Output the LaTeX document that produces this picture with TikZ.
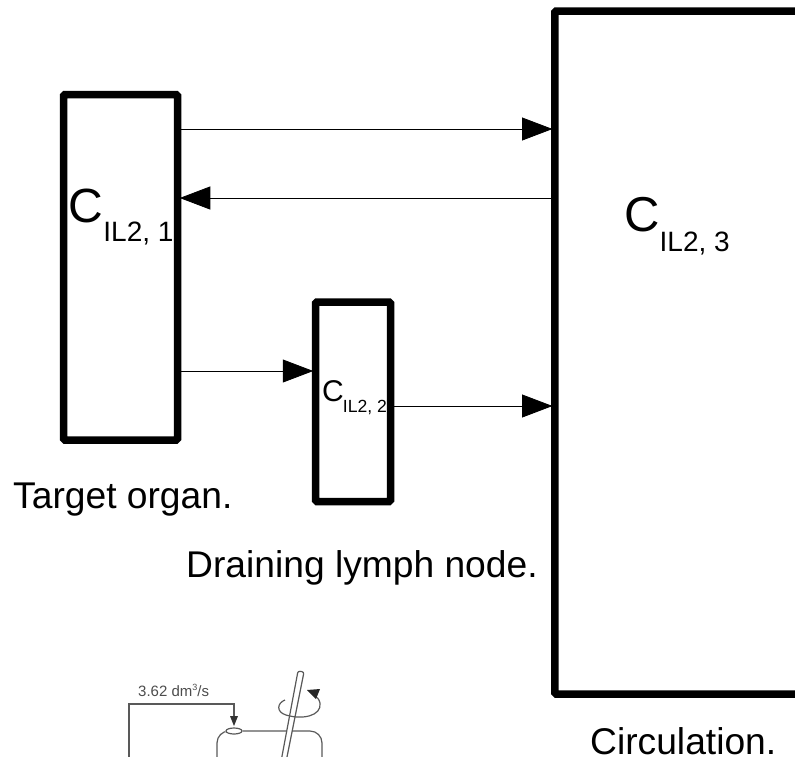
\documentclass[tikz,border=0pt]{standalone}
\usepackage{fontspec}
\setmainfont{Liberation Sans}
\usetikzlibrary{arrows.meta}
\tikzset{
  x=1pt,y=-1pt,
  comp/.style={draw=black,line width=7.5pt,rounded corners=1.5pt,minimum width=#1,inner sep=0pt,outer sep=3.75pt},
  flow/.style={draw=black,line width=0.8pt,-{Triangle[length=30.5pt,width=23pt]},shorten >=-1.5pt},
  symb/.style={inner sep=0pt,anchor=base west},
  sub/.style={inner sep=0pt,anchor=base west},
  lab/.style={inner sep=0pt,anchor=base west,font=\fontsize{37.2}{44}\selectfont},
  sketch/.style={draw=black!65,line width=1.2pt}
}
\begin{document}
\begin{tikzpicture}
\useasboundingbox (0,0) rectangle (795,756);
% compartments
\node[comp=114pt,minimum height=345.5pt] (organ) at (120.5,267.25) {};
\node[comp=75pt,minimum height=199.5pt] (lymph) at (353,401.75) {};
\node[comp=280pt,minimum height=683pt] (circ) at (694.75,352.5) {};
% connector ends
\coordinate (oa) at (organ.east |- 0,129);
\coordinate (ca) at (circ.west |- 0,129);
\coordinate (cb) at (circ.west |- 0,198);
\coordinate (ob) at (organ.east |- 0,198);
\coordinate (oc) at (organ.east |- 0,371);
\coordinate (la) at (lymph.west |- 0,371);
\coordinate (lb) at (lymph.east |- 0,406);
\coordinate (cc) at (circ.west |- 0,406);
\draw[flow] (oa) -- (ca);
\draw[flow] (cb) -- (ob);
\draw[flow] (oc) -- (la);
\draw[flow] (lb) -- (cc);
% symbols
\node[symb,font=\fontsize{48}{56}\selectfont] (c1) at (68.5,222) {C};
\node[sub,font=\fontsize{28}{32}\selectfont] (s1) at (103.2,241.7) {IL2, 1};
\node[symb,font=\fontsize{30}{36}\selectfont] (c2) at (321.8,401) {C};
\node[sub,font=\fontsize{17.6}{20}\selectfont] (s2) at (342.7,412.3) {IL2, 2};
\node[symb,font=\fontsize{49}{60}\selectfont] (c3) at (624.5,231) {C};
\node[sub,font=\fontsize{28}{32}\selectfont] (s3) at (659.5,251) {IL2, 3};
% captions
\node[lab] (t1) at (13,508) {Target organ.};
\node[lab] (t2) at (186,577) {Draining lymph node.};
\node[lab] (t3) at (590,754) {Circulation.};
% sketch
\begin{scope}
\clip (0,0) rectangle (795,756);
\node[inner sep=0pt,anchor=base west,text=black!70,font=\fontsize{15}{18}\selectfont] (rate) at (138,696) {3.62 dm\raisebox{6pt}{\fontsize{9}{10}\selectfont 3}/s};
\draw[sketch] (129,770) -- (129,704) -- (234,704) -- (234,722);
\fill[black!80] (230,716) -- (238,716) -- (234,726) -- cycle;
\draw[sketch] (217,770) -- (217,743) arc[start angle=180,end angle=270,radius=12] -- (310,731) arc[start angle=-90,end angle=0,radius=12] -- (322,770);
\fill[white] (234,731) ellipse[x radius=9,y radius=3.5];
\draw[sketch] (234,731) ellipse[x radius=8,y radius=3];
\fill[white] (298,672) -- (304,672) -- (284.4,770) -- (279.4,770) -- cycle;
\draw[sketch,rounded corners=2pt] (279.4,770) -- (298,671) -- (304,672) -- (284.4,770);
\draw[sketch] (285,700) .. controls (277,703) and (276,712) .. (286,715) .. controls (302,720) and (322,716) .. (320,703) .. controls (319,699) and (317,697) .. (315,696);
\fill[black!85] (307,690) -- (320,689) -- (316,699) -- cycle;
\end{scope}
\end{tikzpicture}
\end{document}
